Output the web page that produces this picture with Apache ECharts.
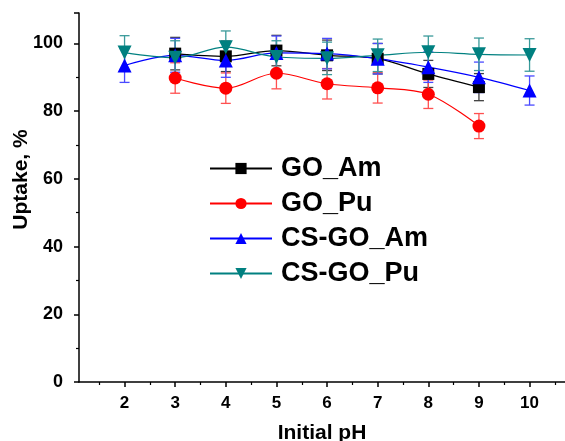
<!DOCTYPE html>
<html><head><meta charset="utf-8">
<script src="https://cdn.jsdelivr.net/npm/echarts@6/dist/echarts.min.js"></script>
<style>html,body{margin:0;padding:0;background:#fff}#c{width:565px;height:441px}</style>
</head><body><div id="c"></div>
<script>
const xTicks = [2,3,4,5,6,7,8,9,10];
const xMinor = [1.5,2.5,3.5,4.5,5.5,6.5,7.5,8.5,9.5,10.5];
const names = ['GO_Am','GO_Pu','CS-GO_Am','CS-GO_Pu'];
const pH_GO = [3,4,5,6,7,8,9];
const pH_CS = [2,3,4,5,6,7,8,9,10];
const GO_Am = [97.0, 96.2, 97.9, 96.5, 95.5, 91.0, 87.1];
const GO_Am_err = [4.8, 4.5, 4.5, 4.5, 4.5, 4.0, 4.0];
const GO_Pu = [89.8, 86.8, 91.2, 88.1, 86.9, 85.0, 75.6];
const GO_Pu_err = [4.5, 4.5, 4.6, 4.5, 4.5, 4.2, 3.7];
const CS_GO_Am = [93.5, 96.5, 95.0, 97.2, 97.0, 95.5, 93.0, 90.0, 86.1];
const CS_GO_Am_err = [5.0, 5.0, 5.0, 5.0, 4.5, 4.5, 4.5, 4.5, 4.3];
const CS_GO_Pu = [97.3, 95.8, 98.9, 96.0, 95.6, 96.5, 97.4, 96.8, 96.6];
const CS_GO_Pu_err = [5.0, 5.0, 4.8, 4.8, 4.8, 4.8, 4.8, 4.8, 4.8];
const colors = ['#000000','#ff0000','#0000ff','#008080'];
const barColors = ['#404040','#ff5050','#4a4aff','#3a9a9a'];
const symbols = ['rect','circle','triangle','triangle'];
const rot = [0,0,0,180];
const sets = [[pH_GO,GO_Am,GO_Am_err],[pH_GO,GO_Pu,GO_Pu_err],[pH_CS,CS_GO_Am,CS_GO_Am_err],[pH_CS,CS_GO_Pu,CS_GO_Pu_err]];

const series = [];
sets.forEach((s,i)=>{
  series.push({
    type:'custom', name:names[i]+' err', xAxisIndex:0, yAxisIndex:0, z:1,
    data: s[0].map((x,j)=>[x, s[1][j]-s[2][j], s[1][j]+s[2][j]]),
    renderItem:(params, api)=>{
      const lo = api.coord([api.value(0), api.value(1)]);
      const hi = api.coord([api.value(0), api.value(2)]);
      const w = 5;
      const st = {stroke: barColors[i], lineWidth: 1.3};
      return {type:'group', children:[
        {type:'line', shape:{x1:lo[0],y1:lo[1],x2:hi[0],y2:hi[1]}, style:st},
        {type:'line', shape:{x1:lo[0]-w,y1:lo[1],x2:lo[0]+w,y2:lo[1]}, style:st},
        {type:'line', shape:{x1:hi[0]-w,y1:hi[1],x2:hi[0]+w,y2:hi[1]}, style:st}
      ]};
    }
  });
});
sets.forEach((s,i)=>{
  series.push({
    type:'line', name:names[i], xAxisIndex:0, yAxisIndex:0, z:3,
    data: s[0].map((x,j)=>[x, s[1][j]]),
    smooth:0.35, symbol:symbols[i], symbolRotate:rot[i],
    symbolSize: i===0?12:(i===1?13:14),
    itemStyle:{color:colors[i]}, lineStyle:{color:colors[i], width:1.2},
    showAllSymbol:true
  });
});

const chart = echarts.init(document.getElementById('c'), null, {renderer:'canvas'});
const font = '"Liberation Sans", Arial, sans-serif';
chart.setOption({
  animation:false,
  grid:{left:79, right:0, top:13, bottom:59, containLabel:false, outerBoundsMode:'none'},
  legend:{
    data:names, orient:'vertical', left:204, top:150, itemWidth:62, itemHeight:14, itemGap:8,
    textStyle:{fontFamily:font, fontWeight:'bold', fontSize:27, color:'#000', padding:[0,0,0,4]}
  },
  xAxis:[{
    type:'value', min:1.1, max:10.7,
    axisLine:{lineStyle:{color:'#000', width:1.5}},
    axisTick:{customValues:xTicks, length:5, lineStyle:{color:'#000', width:1.5}},
    axisLabel:{customValues:xTicks, color:'#000', fontFamily:font, fontWeight:'bold', fontSize:17, margin:13},
    splitLine:{show:false},
    name:'Initial pH', nameLocation:'middle', nameGap:41, nameMoveOverlap:false,
    nameTextStyle:{fontFamily:font, fontWeight:'bold', fontSize:21, color:'#000'}
  },{
    type:'value', min:1.1, max:10.7, position:'bottom',
    axisLine:{show:false},
    axisTick:{customValues:xMinor, length:3, lineStyle:{color:'#000', width:1.2}},
    axisLabel:{show:false}, splitLine:{show:false}
  }],
  yAxis:{
    type:'value', min:0, max:109, interval:20,
    axisLine:{show:true, lineStyle:{color:'#000', width:1.5}},
    axisTick:{show:true, length:5, lineStyle:{color:'#000', width:1.5}},
    minorTick:{show:true, splitNumber:2, length:3, lineStyle:{color:'#000', width:1.2}},
    axisLabel:{color:'#000', fontFamily:font, fontWeight:'bold', fontSize:18, margin:16, showMaxLabel:false,
      formatter:v=> (v%20===0 ? String(v) : '')},
    splitLine:{show:false},
    name:'Uptake, %', nameLocation:'middle', nameGap:47, nameMoveOverlap:false,
    nameTextStyle:{fontFamily:font, fontWeight:'bold', fontSize:21, color:'#000', padding:[0,0,0,36]}
  },
  series: series
});
</script></body></html>
